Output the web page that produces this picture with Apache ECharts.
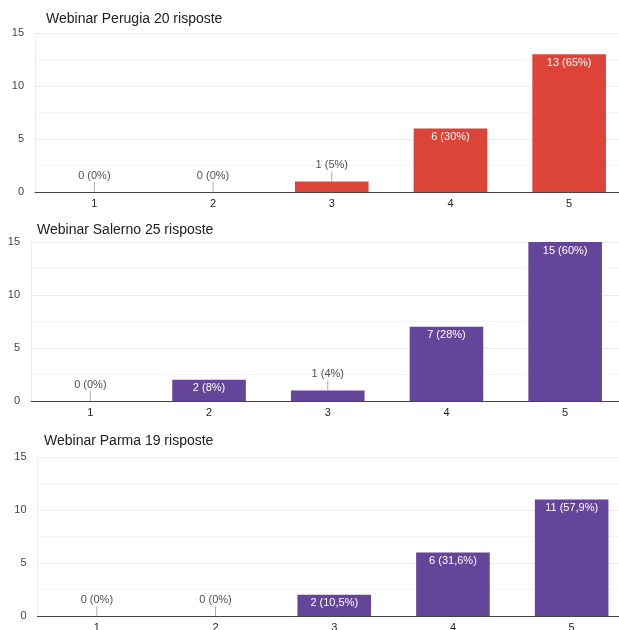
<!DOCTYPE html>
<html>
<head>
<meta charset="utf-8">
<script src="https://cdn.jsdelivr.net/npm/echarts@6/dist/echarts.min.js"></script>
<style>
  html, body { margin: 0; padding: 0; background: #fff; overflow: hidden; }
  #chart { width: 619px; height: 630px; }
</style>
</head>
<body>
<div id="chart"></div>
<script>
// dati
const categories = ['1', '2', '3', '4', '5'];
const yTicks = [0, 5, 10, 15];

const titles = ['Webinar Perugia 20 risposte', 'Webinar Salerno 25 risposte', 'Webinar Parma 19 risposte'];

const perugiaValues = [0, 0, 1, 6, 13];
const perugiaLabels = ['0 (0%)', '0 (0%)', '1 (5%)', '6 (30%)', '13 (65%)'];

const salernoValues = [0, 2, 1, 7, 15];
const salernoLabels = ['0 (0%)', '2 (8%)', '1 (4%)', '7 (28%)', '15 (60%)'];

const parmaValues = [0, 0, 2, 6, 11];
const parmaLabels = ['0 (0%)', '0 (0%)', '2 (10,5%)', '6 (31,6%)', '11 (57,9%)'];

const panels = [
    { values: perugiaValues, labels: perugiaLabels, color: '#DB4437', left: 35, top: 33, titleLeft: 46, titleTop: 12 },
    { values: salernoValues, labels: salernoLabels, color: '#654599', left: 31, top: 242, titleLeft: 37, titleTop: 223 },
    { values: parmaValues, labels: parmaLabels, color: '#654599', left: 37.5, top: 457, titleLeft: 44, titleTop: 434 }
];

const FONT = '"Liberation Sans", Arial, sans-serif';

document.addEventListener('DOMContentLoaded', () => {
    const chart = echarts.init(document.getElementById('chart'), null, { renderer: 'canvas' });

    const title = [], grid = [], xAxis = [], yAxis = [], series = [];

    panels.forEach((p, i) => {
        title.push({
            text: titles[i],
            left: p.titleLeft,
            top: p.titleTop,
            padding: 0,
            textStyle: { fontFamily: FONT, fontSize: 14, fontWeight: 'normal', color: '#212121' }
        });
        // il grafico originale è tagliato a destra e in basso: niente adattamento automatico
        grid.push({ left: p.left, top: p.top, width: 593.5, height: 159, outerBoundsMode: 'none', containLabel: false });
        xAxis.push({
            type: 'category',
            gridIndex: i,
            data: categories,
            axisTick: { show: false },
            axisLine: { lineStyle: { color: '#444', width: 1.2 } },
            axisLabel: { color: '#222', fontFamily: FONT, fontSize: 11, margin: 6 }
        });
        yAxis.push({
            type: 'value',
            gridIndex: i,
            min: yTicks[0],
            max: yTicks[yTicks.length - 1],
            interval: 5,
            axisLine: { show: true, lineStyle: { color: '#eeeeee' } },
            axisTick: { show: false },
            axisLabel: { color: '#444', fontFamily: FONT, fontSize: 11, margin: 11 },
            splitLine: { lineStyle: { color: '#ebebeb' } },
            minorTick: { show: false, splitNumber: 2 },
            minorSplitLine: { show: true, lineStyle: { color: '#f4f4f4' } }
        });

        // barre, etichetta interna quando la barra è abbastanza alta
        series.push({
            type: 'bar',
            xAxisIndex: i,
            yAxisIndex: i,
            barWidth: '62%',
            itemStyle: { color: p.color },
            data: p.values.map((v, k) => ({
                value: v,
                label: {
                    show: v >= 2,
                    position: 'insideTop',
                    distance: 3,
                    formatter: p.labels[k],
                    color: '#fff',
                    fontFamily: FONT,
                    fontSize: 11
                }
            })),
            silent: true
        });

        // etichette esterne con trattino guida per le barre basse
        series.push({
            type: 'scatter',
            xAxisIndex: i,
            yAxisIndex: i,
            symbol: 'rect',
            symbolSize: [1, 10],
            symbolOffset: [0, -5],
            itemStyle: { color: '#999' },
            label: {
                show: true,
                position: 'top',
                distance: 1,
                color: '#222',
                fontFamily: FONT,
                fontSize: 11,
                formatter: (params) => p.labels[params.dataIndex]
            },
            data: p.values.map((v, k) => (v < 2 ? [k, v] : [k, '-'])),
            silent: true,
            z: 3
        });
    });

    chart.setOption({
        animation: false,
        backgroundColor: '#fff',
        title, grid, xAxis, yAxis, series
    });
});
</script>
</body>
</html>
